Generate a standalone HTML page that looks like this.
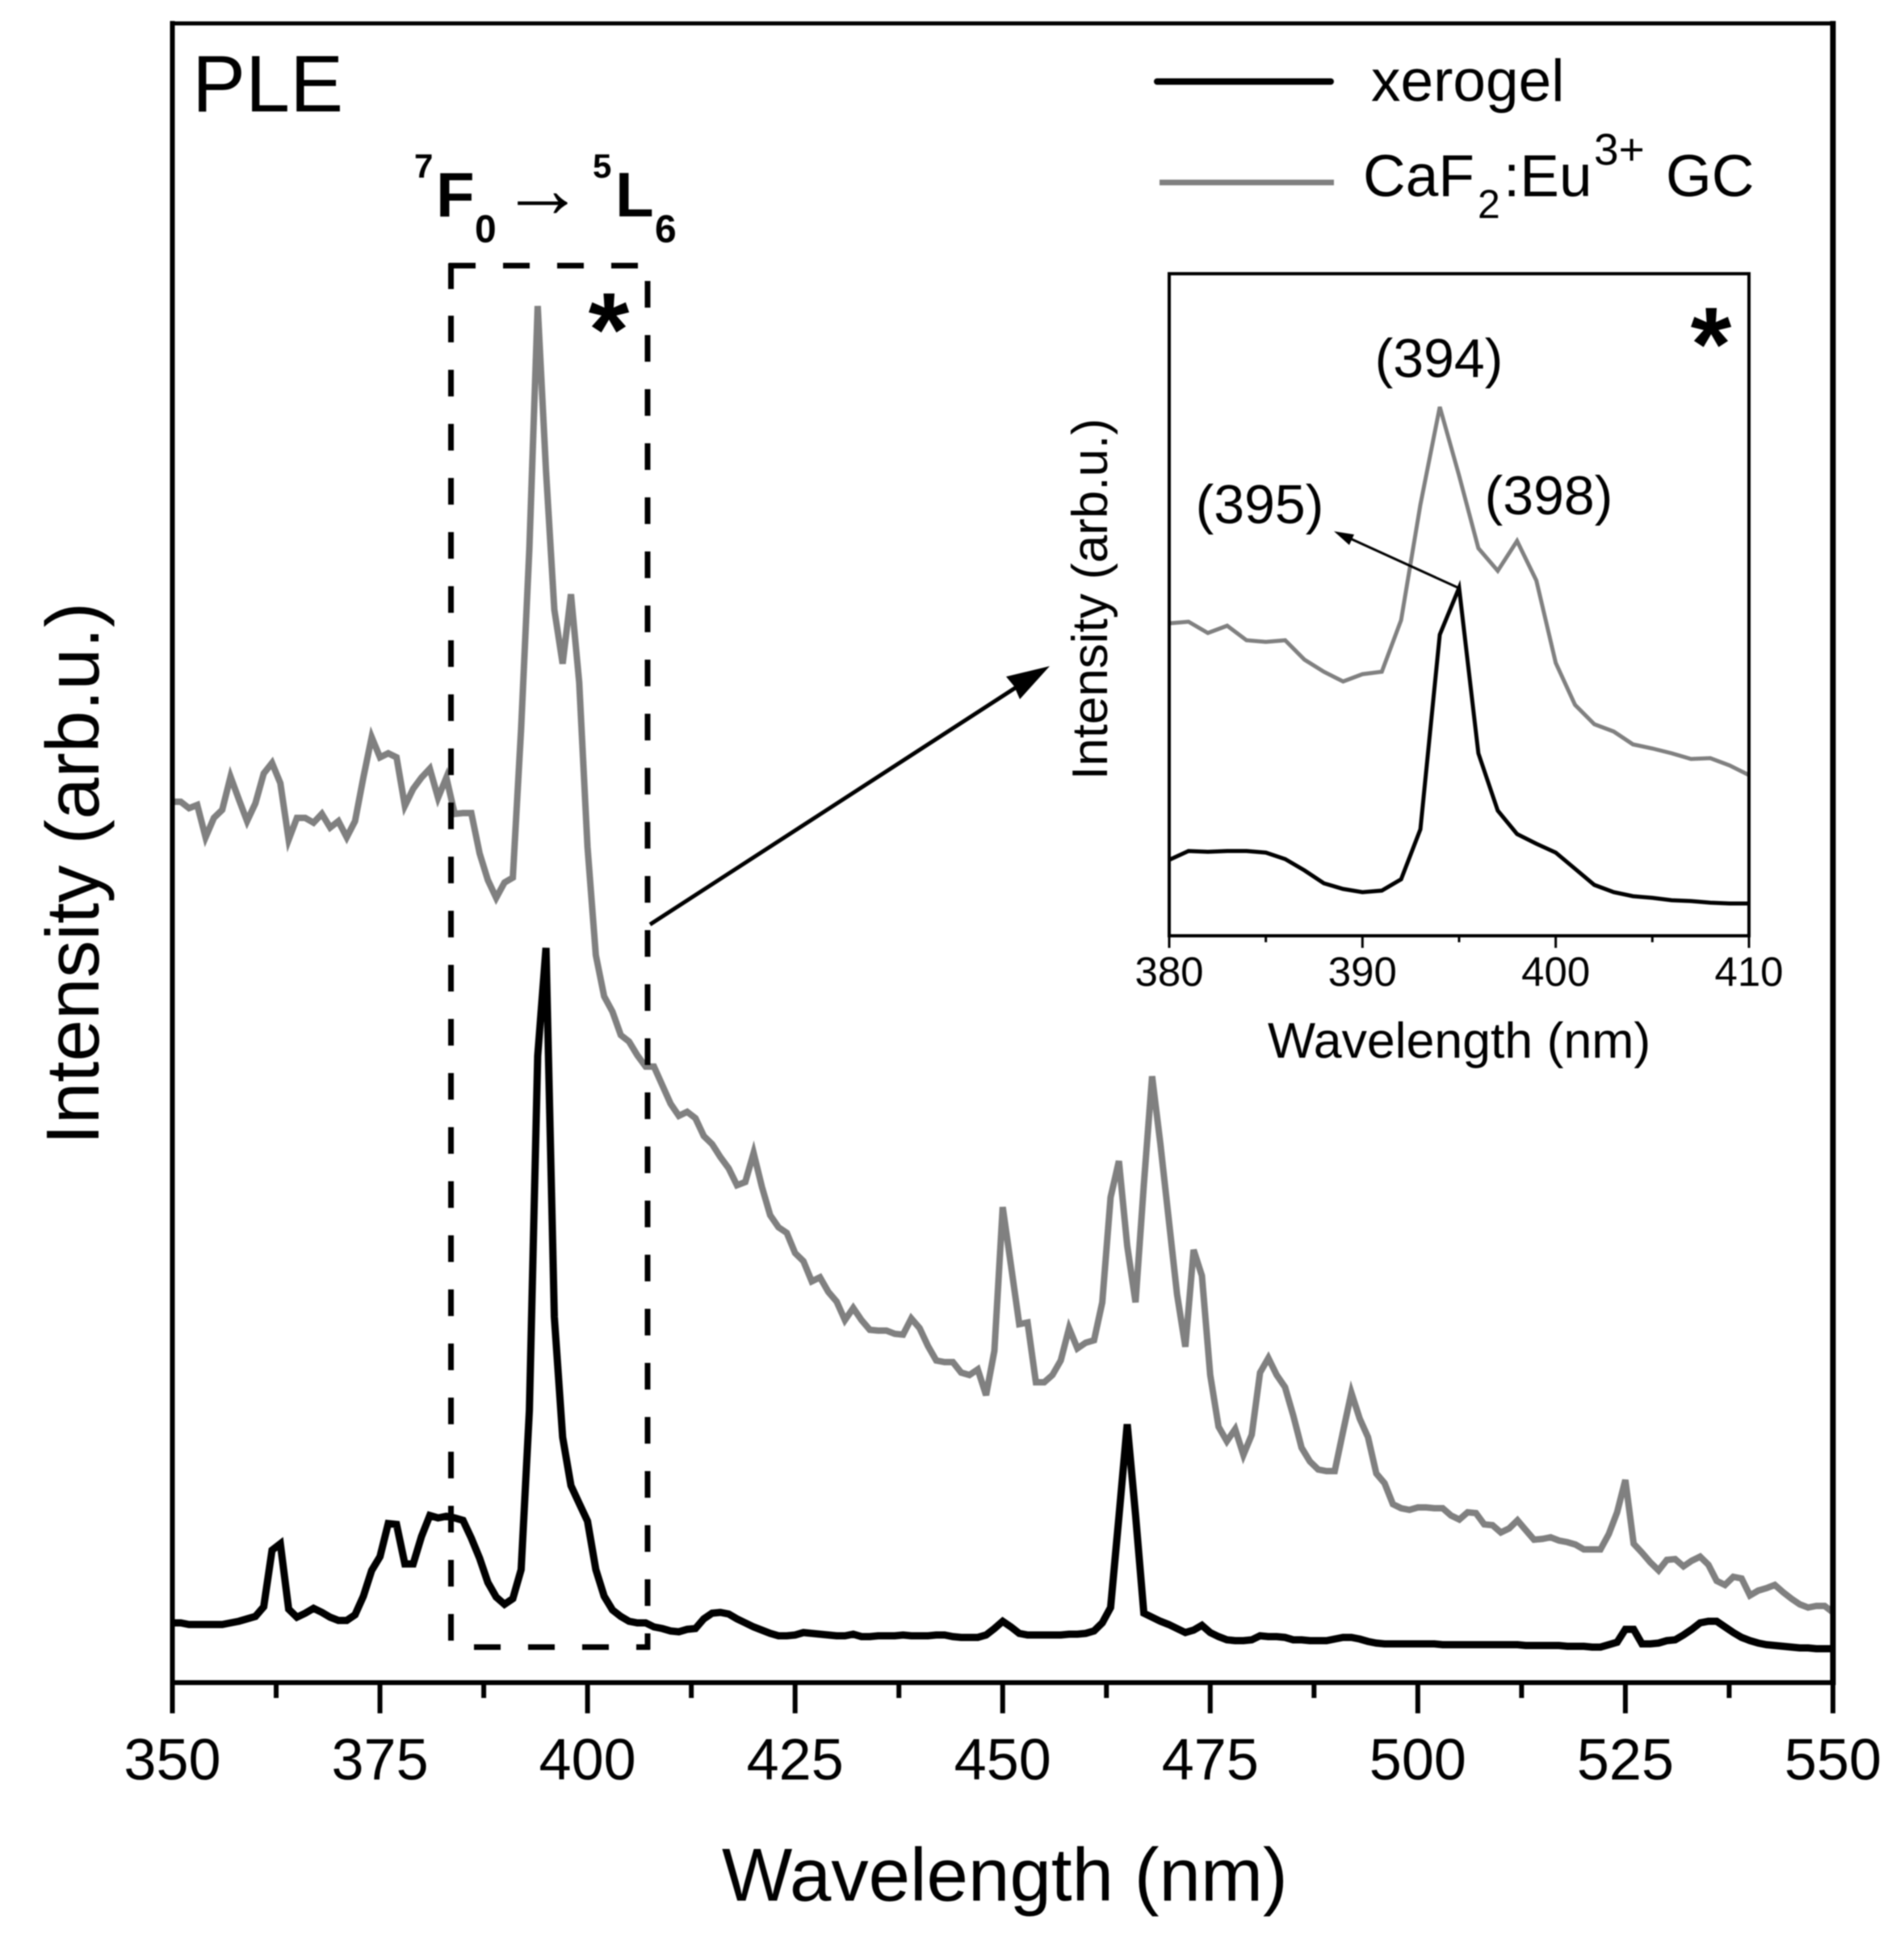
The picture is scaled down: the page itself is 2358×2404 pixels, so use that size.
<!DOCTYPE html>
<html lang="en">
<head>
<meta charset="utf-8">
<title>PLE spectra of xerogel and CaF2:Eu3+ GC</title>
<style>
  html, body { margin: 0; padding: 0; background: #fff; }
  svg { display: block; filter: blur(0.7px); }
  text { font-family: "Liberation Sans", sans-serif; fill: #000; }
</style>
</head>
<body>
<svg id="chart" xmlns="http://www.w3.org/2000/svg" width="2358" height="2404" viewBox="0 0 2358 2404">
  <rect x="0" y="0" width="2358" height="2404" fill="#fff"/>

  <g id="main-curves"></g>
  <g id="main-axes"></g>

  <text x="894" y="2354" font-size="92.5">Wavelength (nm)</text>
  <text transform="translate(122,1418) rotate(-90)" font-size="93">Intensity (arb.u.)</text>
  <text x="238" y="138" font-size="99">PLE</text>

  <g>
    <text x="513" y="220" font-size="42" font-weight="bold">7</text>
    <text x="540" y="268" font-size="78" font-weight="bold">F</text>
    <text x="588" y="300" font-size="48" font-weight="bold">0</text>
    <text x="620" y="269" font-size="104" style="font-family:'Liberation Serif','DejaVu Serif',serif">→</text>
    <text x="734" y="220" font-size="42" font-weight="bold">5</text>
    <text x="762" y="268" font-size="78" font-weight="bold">L</text>
    <text x="811" y="300" font-size="48" font-weight="bold">6</text>
  </g>

  <path d="M556 329H790 M558.5 326V358 M558.5 391V2033 M802 348V2043 M587 2040H805" fill="none" stroke="#000" stroke-width="7" stroke-dasharray="33 34"/>
  <text x="754" y="453" font-size="130" font-weight="bold" text-anchor="middle">*</text>

  <g>
    <line x1="805" y1="1145" x2="1265" y2="847" stroke="#000" stroke-width="5"/>
    <polygon points="1300,825 1263,866 1256,850 1246,838" fill="#000"/>
  </g>

  <g>
    <line x1="1433" y1="101" x2="1648" y2="101" stroke="#000" stroke-width="8" stroke-linecap="round"/>
    <text x="1698" y="125" font-size="73">xerogel</text>
    <line x1="1436" y1="226" x2="1652" y2="226" stroke="#808080" stroke-width="7"/>
    <g>
      <text x="1688" y="243" font-size="73">CaF</text>
      <text x="1830" y="270" font-size="50">2</text>
      <text x="1862" y="243" font-size="73">:Eu</text>
      <text x="1974" y="204" font-size="55">3+</text>
      <text x="2063" y="243" font-size="73">GC</text>
    </g>
  </g>

  <g id="inset">
    <g id="inset-curves"></g>
    <g id="inset-axes"></g>
    <text x="1570" y="1310" font-size="62.6">Wavelength (nm)</text>
    <text transform="translate(1371,966) rotate(-90)" font-size="62">Intensity (arb.u.)</text>
    <text x="2119" y="471" font-size="130" font-weight="bold" text-anchor="middle">*</text>
    <text x="1782" y="467" font-size="68" text-anchor="middle">(394)</text>
    <text x="1560" y="648" font-size="68" text-anchor="middle">(395)</text>
    <text x="1918" y="637" font-size="68" text-anchor="middle">(398)</text>
    <line x1="1806" y1="728" x2="1670" y2="666" stroke="#000" stroke-width="3"/>
    <polygon points="1652,658 1677,662 1671,675" fill="#000"/>
  </g>
</svg>

<script>
// Main plot data (wavelength in nm, intensity in arb.u.)
const mainStartNm = 350;
const caf2GcIntensity = [
  109.1,109.1,108.3,108.7,104.7,107.1,108.1,112.2,109.4,106.7,
  108.9,112.6,113.9,111.4,104.4,107.1,107.1,106.5,107.6,105.9,
  106.7,104.7,106.7,112.1,117.1,114.6,115.1,114.6,108.6,110.7,
  112.1,113.2,109.6,112.1,107.6,107.7,107.7,102.7,99.4,97.2,
  99.1,99.7,118.2,140.5,170.5,150.1,132.9,126.2,134.8,123.9,
  103.5,90.1,85.0,83.1,80.2,79.4,77.7,76.3,76.3,74.0,
  71.7,70.2,70.7,69.9,67.7,66.7,65.1,63.7,61.6,62.0,
  65.6,61.4,57.9,56.4,55.7,53.2,52.2,49.7,50.2,48.4,
  47.2,44.9,46.4,44.9,43.7,43.6,43.6,43.2,43.1,45.1,
  43.9,41.7,39.9,39.7,39.7,38.4,38.1,38.8,35.6,41.1,
  58.9,51.7,44.4,44.6,37.2,37.2,38.1,39.9,43.9,41.4,
  42.1,42.4,47.1,60.1,64.6,54.1,47.1,61.7,75.1,66.7,
  57.4,48.1,41.6,53.6,50.4,38.1,31.7,29.9,31.4,28.2,
  30.7,38.4,40.2,38.1,36.6,33.1,29.1,27.4,26.4,26.2,
  26.2,31.1,35.9,32.7,30.4,25.9,24.7,22.1,21.6,21.4,
  21.7,21.7,21.6,21.6,20.7,20.2,21.1,21.0,19.6,19.5,
  18.6,19.1,20.1,18.9,17.7,17.8,18.0,17.6,17.4,17.1,
  16.5,16.5,16.5,18.4,21.1,25.1,17.2,16.1,14.9,13.9,
  15.2,15.3,14.4,15.1,15.6,14.6,12.6,12.1,13.1,12.9,
  10.8,11.4,11.7,12.1,11.2,10.4,9.7,9.3,9.5,9.5,
  8.7
];
const xerogelIntensity = [
  7.4,7.4,7.2,7.2,7.2,7.2,7.2,7.4,7.6,7.9,
  8.2,9.4,16.4,17.2,9.1,8.1,8.6,9.2,8.7,8.1,
  7.7,7.7,8.4,10.7,13.9,15.6,19.7,19.6,14.7,14.7,
  18.1,20.7,20.4,20.6,20.4,20.1,17.9,15.4,12.4,10.6,
  9.7,10.4,14.0,33.7,77.6,91.0,45.3,30.4,24.4,22.2,
  20.0,14.0,10.7,9.0,8.2,7.6,7.4,7.4,6.9,6.7,
  6.4,6.3,6.6,6.7,7.9,8.6,8.7,8.5,7.9,7.4,
  6.9,6.5,6.1,5.8,5.8,5.9,6.2,6.1,6.0,5.9,
  5.8,5.8,6.0,5.7,5.7,5.8,5.8,5.8,5.9,5.8,
  5.8,5.8,5.9,5.9,5.7,5.6,5.6,5.6,5.9,6.7,
  7.6,6.9,6.1,5.9,5.9,5.9,5.9,5.9,6.0,6.0,
  6.1,6.4,7.4,9.3,20.5,32.0,20.8,8.6,8.1,7.6,
  7.2,6.7,6.2,6.5,7.1,6.2,5.7,5.3,5.2,5.2,
  5.3,5.8,5.7,5.7,5.6,5.3,5.3,5.2,5.2,5.2,
  5.4,5.6,5.6,5.4,5.1,4.9,4.8,4.8,4.8,4.8,
  4.8,4.8,4.8,4.7,4.7,4.7,4.7,4.7,4.7,4.7,
  4.7,4.7,4.7,4.6,4.6,4.6,4.6,4.6,4.5,4.5,
  4.5,4.4,4.4,4.7,5.0,6.6,6.6,4.8,4.8,4.9,
  5.2,5.3,5.9,6.6,7.4,7.6,7.6,6.9,6.2,5.6,
  5.2,4.9,4.7,4.6,4.5,4.4,4.3,4.3,4.2,4.2,
  4.2
];
const mainMajorTicks = [350,375,400,425,450,475,500,525,550];
const mainMinorTicks = [362.5,387.5,412.5,437.5,462.5,487.5,512.5,537.5];

// Inset data
const insetStartNm = 380;
const insetCaf2GcIntensity = [
  38.7,38.9,37.5,38.4,36.6,36.4,36.6,34.2,32.7,31.5,
  32.4,32.7,39.1,53.4,65.5,57.0,48.0,45.2,48.9,44.0,
  33.8,28.6,26.2,25.3,23.7,23.2,22.6,21.9,22.0,21.1,
  19.9
];
const insetXerogelIntensity = [
  9.4,10.5,10.4,10.5,10.5,10.3,9.5,8.1,6.5,5.8,
  5.4,5.6,7.0,13.2,37.3,43.1,22.6,15.5,12.6,11.4,
  10.3,8.3,6.3,5.4,4.9,4.7,4.4,4.3,4.1,4.0,
  4.0
];
const insetMajorTicks = [380,390,400,410];
const insetMinorTicks = [385,395,405];

// Axis functions
function mainX(nm) { return 213.5 + (nm - 350) * (2270 - 213.5) / 200; }
function mainY(v) { return 2084 - v * 10; }
function insetX(nm) { return 1448 + (nm - 380) * (2166 - 1448) / 30; }
function insetY(v) { return 1159 - v * 10; }

const NS = 'http://www.w3.org/2000/svg';
function make(tag, parent, attrs) {
  const el = document.createElementNS(NS, tag);
  for (const k in attrs) el.setAttribute(k, attrs[k]);
  parent.appendChild(el);
  return el;
}
function pointsOf(values, startNm, xf, yf) {
  return values.map(function (v, i) { return xf(startNm + i).toFixed(1) + ',' + yf(v).toFixed(1); }).join(' ');
}

const mainCurves = document.getElementById('main-curves');
const mainAxes = document.getElementById('main-axes');
const insetCurves = document.getElementById('inset-curves');
const insetAxes = document.getElementById('inset-axes');

// Main series
const grayLine = make('polyline', mainCurves, { points: pointsOf(caf2GcIntensity, mainStartNm, mainX, mainY), fill: 'none', stroke: '#808080', 'stroke-width': 8, 'stroke-linejoin': 'miter' });


const blackLine = make('polyline', mainCurves, { points: pointsOf(xerogelIntensity, mainStartNm, mainX, mainY), fill: 'none', stroke: '#000', 'stroke-width': 9, 'stroke-linejoin': 'miter' });



// Main frame
const frameLeft = make('line', mainAxes, { x1: 213.5, y1: 26, x2: 213.5, y2: 2087, stroke: '#000', 'stroke-width': 6 });


const frameTop = make('line', mainAxes, { x1: 211, y1: 29, x2: 2273, y2: 29, stroke: '#000', 'stroke-width': 5 });


const frameRight = make('line', mainAxes, { x1: 2270, y1: 26, x2: 2270, y2: 2087, stroke: '#000', 'stroke-width': 7 });


const frameBottom = make('line', mainAxes, { x1: 211, y1: 2084, x2: 2273, y2: 2084, stroke: '#000', 'stroke-width': 6 });



// Main ticks
mainMajorTicks.forEach(function (t) {
  const tick = make('line', mainAxes, { x1: mainX(t), y1: 2084, x2: mainX(t), y2: 2122, stroke: '#000', 'stroke-width': 6 });
  
  
  const label = make('text', mainAxes, { x: mainX(t), y: 2204, 'font-size': 72, 'text-anchor': 'middle' });
  
  
  label.textContent = String(t);
});
mainMinorTicks.forEach(function (t) {
  const tick = make('line', mainAxes, { x1: mainX(t), y1: 2084, x2: mainX(t), y2: 2103, stroke: '#000', 'stroke-width': 6 });
  
  
});

// Inset series
const insetGray = make('polyline', insetCurves, { points: pointsOf(insetCaf2GcIntensity, insetStartNm, insetX, insetY), fill: 'none', stroke: '#808080', 'stroke-width': 5 });


const insetBlack = make('polyline', insetCurves, { points: pointsOf(insetXerogelIntensity, insetStartNm, insetX, insetY), fill: 'none', stroke: '#000', 'stroke-width': 5 });



// Inset frame
const insetFrame = make('rect', insetAxes, { x: 1448, y: 339, width: 718, height: 820, fill: 'none', stroke: '#000', 'stroke-width': 4 });



// Inset ticks
insetMajorTicks.forEach(function (t) {
  const tick = make('line', insetAxes, { x1: insetX(t), y1: 1159, x2: insetX(t), y2: 1174, stroke: '#000', 'stroke-width': 3 });
  
  
  const label = make('text', insetAxes, { x: insetX(t), y: 1221, 'font-size': 51, 'text-anchor': 'middle' });
  
  
  label.textContent = String(t);
});
insetMinorTicks.forEach(function (t) {
  const tick = make('line', insetAxes, { x1: insetX(t), y1: 1159, x2: insetX(t), y2: 1167, stroke: '#000', 'stroke-width': 3 });
  
  
});
</script>
</body>
</html>
